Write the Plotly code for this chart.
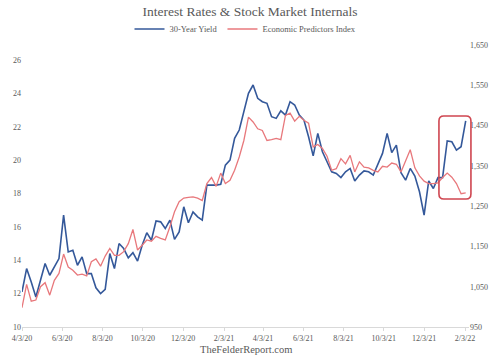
import pandas as pd
import plotly.graph_objects as go

start_date = "2020-04-03"
n_weeks = 97
dates = pd.date_range(start=start_date, periods=n_weeks, freq="7D")

yield_30y = [
    12.1, 13.5, 12.7, 11.8, 12.8, 13.8, 13.1, 13.6, 14.1, 16.7,
    14.5, 14.6, 13.7, 14.2, 13.2, 13.2, 12.35, 12.0, 12.25, 14.4,
    13.5, 15.0, 14.7, 14.15, 14.45, 13.95, 14.9, 15.65, 15.2, 16.35,
    16.3, 15.9, 16.4, 15.25, 15.7, 17.2, 16.25, 16.9, 16.6, 16.4,
    18.5, 18.5, 18.5, 18.55, 19.7, 20.0, 21.3, 21.8, 22.9, 24.0,
    24.5, 23.7, 23.5, 23.4, 22.6, 22.5, 22.95, 22.7, 23.5, 23.3,
    22.7, 22.4, 21.4, 20.25, 21.6, 20.5, 19.9, 19.3, 19.2, 18.95,
    19.3, 19.5, 18.75, 19.1, 19.35, 19.3, 19.1, 19.7, 20.4, 21.6,
    20.45, 20.9, 19.25, 18.8, 19.5, 19.05, 18.1, 16.7, 18.75, 18.3,
    18.95, 18.95, 21.15, 21.1, 20.6, 20.8, 22.35,
]

epi = [
    998, 1056, 1014, 1017, 1050, 1060, 1029, 1066, 1083, 1131,
    1099, 1091, 1079, 1081, 1077, 1112, 1119, 1101, 1126, 1145,
    1128, 1128, 1137, 1157, 1192, 1141, 1153, 1166, 1163, 1175,
    1170, 1166, 1199, 1236, 1261, 1270, 1272, 1273, 1270, 1264,
    1306, 1321, 1299, 1332, 1306, 1314, 1339, 1372, 1413, 1471,
    1459, 1442, 1438, 1413, 1415, 1418, 1415, 1475, 1481, 1461,
    1473, 1463, 1456, 1397, 1403, 1393, 1374, 1339, 1343, 1368,
    1355, 1376, 1335, 1360, 1347, 1345, 1339, 1335, 1349, 1347,
    1357, 1354, 1335, 1364, 1390, 1345, 1325, 1312, 1306, 1306,
    1308, 1321, 1332, 1322, 1306, 1281, 1283,
]

x_tick_dates = ["2020-04-03", "2020-06-03", "2020-08-03", "2020-10-03", "2020-12-03",
                "2021-02-03", "2021-04-03", "2021-06-03", "2021-08-03", "2021-10-03",
                "2021-12-03", "2022-02-03"]
x_tick_labels = ["4/3/20", "6/3/20", "8/3/20", "10/3/20", "12/3/20", "2/3/21",
                 "4/3/21", "6/3/21", "8/3/21", "10/3/21", "12/3/21", "2/3/22"]
left_ticks = [10, 12, 14, 16, 18, 20, 22, 24, 26]
right_ticks = [950, 1050, 1150, 1250, 1350, 1450, 1550, 1650]
right_tick_labels = ["950", "1,050", "1,150", "1,250", "1,350", "1,450", "1,550", "1,650"]

FONT = "Liberation Serif, DejaVu Serif, serif"
GREY = "#595959"
BLUE = "#34589a"
RED = "#e8787c"
BOX = "#cf4650"

fig = go.Figure()
fig.add_trace(go.Scatter(x=dates, y=yield_30y, name="30-Year Yield", mode="lines",
                         line=dict(color=BLUE, width=1.6)))
fig.add_trace(go.Scatter(x=dates, y=epi, name="Economic Predictors Index", mode="lines",
                         line=dict(color=RED, width=1.3), yaxis="y2"))

# plot area geometry (pixels) for the highlight box
L, R, T, B = 16, 477, 45, 327
W, H = R - L, B - T
def px(xp):
    return (xp - L) / W
def py(yp):
    return (B - yp) / H

bx0, bx1, by0, by1, rad = 446, 479, 116, 199, 5
path = (
    f"M {px(bx0 + rad)},{py(by0)} L {px(bx1 - rad)},{py(by0)} "
    f"Q {px(bx1)},{py(by0)} {px(bx1)},{py(by0 + rad)} "
    f"L {px(bx1)},{py(by1 - rad)} Q {px(bx1)},{py(by1)} {px(bx1 - rad)},{py(by1)} "
    f"L {px(bx0 + rad)},{py(by1)} Q {px(bx0)},{py(by1)} {px(bx0)},{py(by1 - rad)} "
    f"L {px(bx0)},{py(by0 + rad)} Q {px(bx0)},{py(by0)} {px(bx0 + rad)},{py(by0)} Z"
)
fig.add_shape(type="path", path=path, xref="paper", yref="paper",
              line=dict(color=BOX, width=1.6))

fig.update_layout(
    width=500, height=359,
    margin=dict(l=L, r=500 - R, t=T, b=359 - B),
    paper_bgcolor="white", plot_bgcolor="white",
    font=dict(family=FONT, color=GREY, size=8),
    title=dict(text="Interest Rates & Stock Market Internals", x=0.5, xanchor="center",
               y=1 - 11 / 359, yanchor="middle", font=dict(size=13.5, color=GREY, family=FONT)),
    showlegend=True,
    legend=dict(orientation="h", x=0.5, xanchor="center", y=py(29), yanchor="middle",
                font=dict(size=8.5, color=GREY), bgcolor="rgba(0,0,0,0)"),
    xaxis=dict(type="date", range=["2020-04-03", "2022-02-09"],
               tickvals=x_tick_dates, ticktext=x_tick_labels,
               showgrid=False, zeroline=False, showline=True, linecolor="#d9d9d9",
               linewidth=1, ticks="outside", ticklen=3, tickcolor="#d9d9d9",
               tickfont=dict(size=8, color=GREY)),
    yaxis=dict(range=[10, 10 + H / 16.69], tickvals=left_ticks, showgrid=False,
               zeroline=False, showline=False, ticks="", tickfont=dict(size=8, color=GREY)),
    yaxis2=dict(range=[950, 1650], tickvals=right_ticks, ticktext=right_tick_labels,
                overlaying="y", side="right", showgrid=False, zeroline=False,
                showline=False, ticks="", tickfont=dict(size=8, color=GREY)),
    annotations=[dict(text="TheFelderReport.com", xref="paper", yref="paper",
                      x=0.5, y=py(349), xanchor="center", yanchor="middle",
                      showarrow=False, font=dict(size=10.5, color=GREY, family=FONT))],
)

fig.write_html("out.html", config={"displayModeBar": False},
               post_script="document.body.style.margin='0';document.body.style.overflow='hidden';")
